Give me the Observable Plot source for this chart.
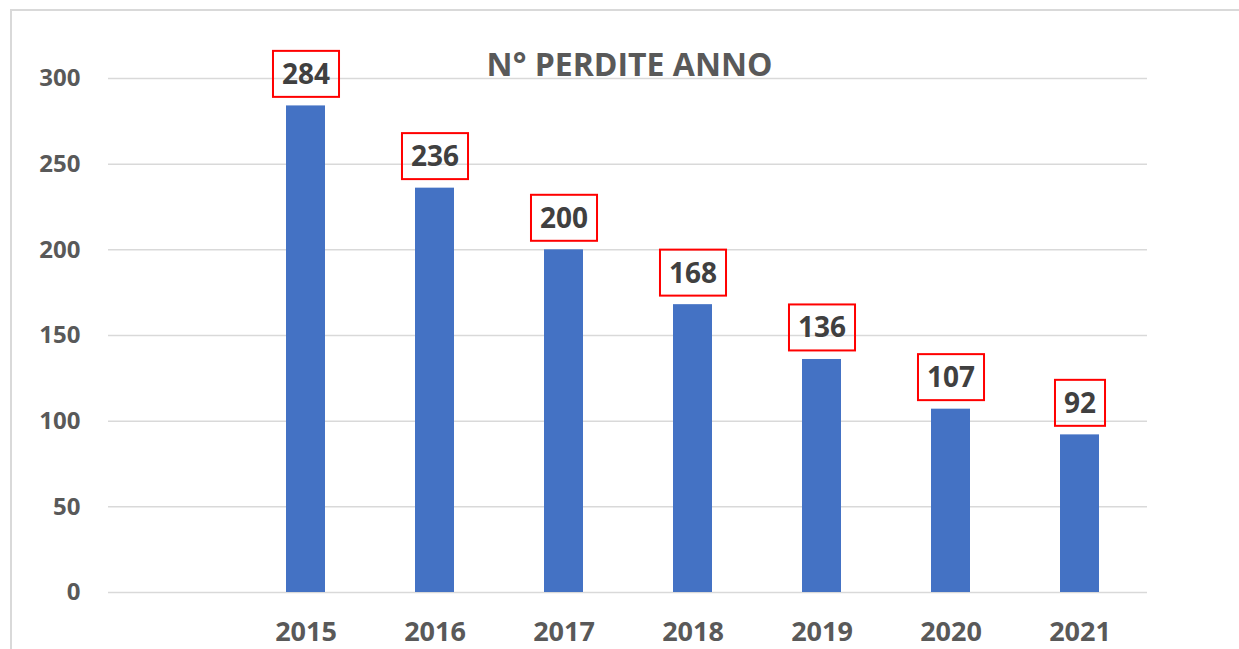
<!DOCTYPE html>
<html>
<head>
<meta charset="utf-8">
<script src="https://cdn.jsdelivr.net/npm/d3@7"></script>
<script src="https://cdn.jsdelivr.net/npm/@observablehq/plot@0.6"></script>
<style>
  html, body { margin: 0; padding: 0; background: #ffffff; }
  #wrap { position: relative; width: 1239px; height: 649px; overflow: hidden; background: #ffffff; }
  #frame { position: absolute; left: 10px; top: 9px; width: 1400px; height: 800px; border: 2px solid #d9d9d9; box-sizing: border-box; }
  #chart { position: absolute; left: 0; top: 0; }
</style>
</head>
<body>
<div id="wrap"><div id="frame"></div><div id="chart"></div></div>
<script>
// ---- data ----
const titleText = "N° PERDITE ANNO";
const categories = ["", "2015", "2016", "2017", "2018", "2019", "2020", "2021"];
const years = ["2015", "2016", "2017", "2018", "2019", "2020", "2021"];
const values = [284, 236, 200, 168, 136, 107, 92];
const yTicks = [0, 50, 100, 150, 200, 250, 300];

const data = years.map((y, i) => ({year: y, value: values[i]}));

const chart = Plot.plot({
  width: 1239,
  height: 649,
  marginLeft: 108,
  marginRight: 92,
  marginTop: 78,
  marginBottom: 57,
  style: {fontFamily: "'Open Sans', sans-serif", background: "transparent", overflow: "visible"},
  x: {domain: categories, paddingInner: 0.7, paddingOuter: 0.35, label: null, tickSize: 0, tickPadding: 29},
  y: {domain: [0, 300], ticks: yTicks, label: null, tickSize: 0, tickPadding: 28},
  marks: [
    Plot.ruleY(yTicks, {stroke: "#d9d9d9", strokeWidth: 1.5}),
    Plot.barY(data, {x: "year", y: "value", fill: "#4472c4"}),
    Plot.text(data, {x: "year", y: "value", text: d => String(d.value), dy: -31,
      fontSize: 28, fontWeight: "bold", fill: "#404040"}),
    Plot.text([titleText], {frameAnchor: "top", text: d => d, dy: -25, dx: 1.5,
      fontSize: 32, fontWeight: "bold", fill: "#595959"})
  ]
});

document.getElementById("chart").appendChild(chart);

const svg = d3.select(chart);
svg.selectAll('g[aria-label^="x-axis"]').style("font-size", "27px").style("font-weight", "bold").style("fill", "#595959");
svg.selectAll('g[aria-label^="x-axis"] text').style("fill", "#595959");
svg.selectAll('g[aria-label^="y-axis"]').style("font-size", "24px").style("font-weight", "bold").style("fill", "#595959");
svg.selectAll('g[aria-label^="y-axis"] text').style("fill", "#595959");

// red boxes around value labels, sized from the rendered text
const valueStrings = new Set(values.map(String));
const svgRect = chart.getBoundingClientRect();
const boxLayer = svg.append("g").attr("class", "label-boxes");
svg.selectAll('g[aria-label="text"] text').each(function() {
  if (!valueStrings.has(this.textContent.trim())) return;
  const r = this.getBoundingClientRect();
  const cx = r.left + r.width / 2 - svgRect.left;
  const cy = r.top + r.height / 2 - svgRect.top + 1;
  const w = r.width + 18;
  const h = 46;
  boxLayer.append("rect")
    .attr("x", cx - w / 2).attr("y", cy - h / 2)
    .attr("width", w).attr("height", h)
    .attr("fill", "none").attr("stroke", "#ff0000").attr("stroke-width", 2);
});
</script>
</body>
</html>
